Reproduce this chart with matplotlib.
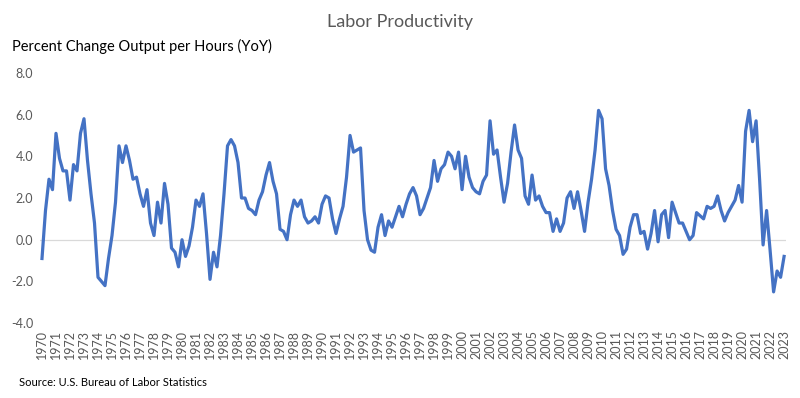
import matplotlib.pyplot as plt

# quarterly YoY % change, 1970Q1 .. 2023Q1
productivity = [
    -0.9, 1.4, 2.9, 2.4, 5.1, 3.9, 3.3, 3.3, 1.9, 3.6,
    3.3, 5.1, 5.8, 3.8, 2.2, 0.8, -1.8, -2.0, -2.2, -0.9,
    0.2, 1.8, 4.5, 3.7, 4.5, 3.8, 2.9, 3.0, 2.2, 1.6,
    2.4, 0.8, 0.2, 1.8, 0.8, 2.7, 1.7, -0.4, -0.6, -1.3,
    0.0, -0.8, -0.3, 0.6, 1.9, 1.6, 2.2, 0.3, -1.9, -0.6,
    -1.3, 0.2, 2.2, 4.5, 4.8, 4.5, 3.7, 2.0, 2.0, 1.5,
    1.4, 1.2, 1.9, 2.3, 3.1, 3.7, 2.8, 2.2, 0.5, 0.4,
    0.0, 1.2, 1.9, 1.6, 1.9, 1.1, 0.8, 0.9, 1.1, 0.8,
    1.7, 2.1, 2.0, 1.0, 0.3, 1.0, 1.6, 3.0, 5.0, 4.2,
    4.3, 4.4, 1.4, 0.0, -0.5, -0.6, 0.6, 1.2, 0.2, 0.9,
    0.6, 1.1, 1.6, 1.1, 1.7, 2.2, 2.5, 2.1, 1.2, 1.5,
    2.0, 2.5, 3.8, 2.8, 3.4, 3.6, 4.2, 4.0, 3.4, 4.2,
    2.4, 4.0, 3.0, 2.5, 2.3, 2.2, 2.8, 3.1, 5.7, 4.1,
    4.3, 3.0, 1.8, 2.7, 4.2, 5.5, 4.3, 3.9, 2.1, 1.7,
    3.1, 1.9, 2.1, 1.6, 1.3, 1.3, 0.4, 1.0, 0.4, 0.8,
    2.0, 2.3, 1.5, 2.3, 1.4, 0.4, 1.8, 2.9, 4.3, 6.2,
    5.8, 3.4, 2.6, 1.4, 0.5, 0.2, -0.7, -0.45, 0.6, 1.2,
    1.2, 0.3, 0.4, -0.45, 0.3, 1.4, -0.1, 1.2, 1.4, 0.1,
    1.8, 1.3, 0.8, 0.8, 0.4, 0.0, 0.2, 1.3, 1.15, 1.0,
    1.6, 1.5, 1.6, 2.1, 1.4, 0.9, 1.3, 1.6, 1.9, 2.6,
    1.8, 5.2, 6.2, 4.7, 5.7, 2.9, -0.25, 1.4, -0.5, -2.5,
    -1.5, -1.8, -0.8,
]
years = list(range(1970, 2024))
y_ticks = [-4.0, -2.0, 0.0, 2.0, 4.0, 6.0, 8.0]

plt.rcParams['font.family'] = ['Lato', 'DejaVu Sans']

fig = plt.figure(figsize=(8, 3.98), dpi=100)
ax = fig.add_axes([0.0503, 0.188, 0.932, 0.629])

x = list(range(len(productivity)))
ax.axhline(0, color='#d9d9d9', lw=0.9, zorder=1)
ax.plot(x, productivity, color='#4472C4', lw=2.3, solid_joinstyle='round', zorder=2)

ax.set_xlim(-0.5, len(productivity) - 0.5)
ax.set_ylim(-4, 8)
ax.set_yticks(y_ticks)
ax.set_yticklabels([f'{v:.1f}' for v in y_ticks], color='#595959', fontsize=9)
ax.set_xticks([4 * i for i in range(len(years))])
ax.set_xticklabels([str(y) for y in years], rotation=90, color='#595959', fontsize=9)
ax.tick_params(length=0, pad=5)
for s in ax.spines.values():
    s.set_visible(False)

fig.text(0.5, 0.945, 'Labor Productivity', ha='center', va='center', fontsize=13, color='#595959')
fig.text(0.015, 0.882, 'Percent Change Output per Hours (YoY)', ha='left', va='center', fontsize=10.5, color='black')
fig.text(0.024, 0.04, 'Source: U.S. Bureau of Labor Statistics', ha='left', va='center', fontsize=8, color='black')

fig.savefig('out.png', dpi=100)
